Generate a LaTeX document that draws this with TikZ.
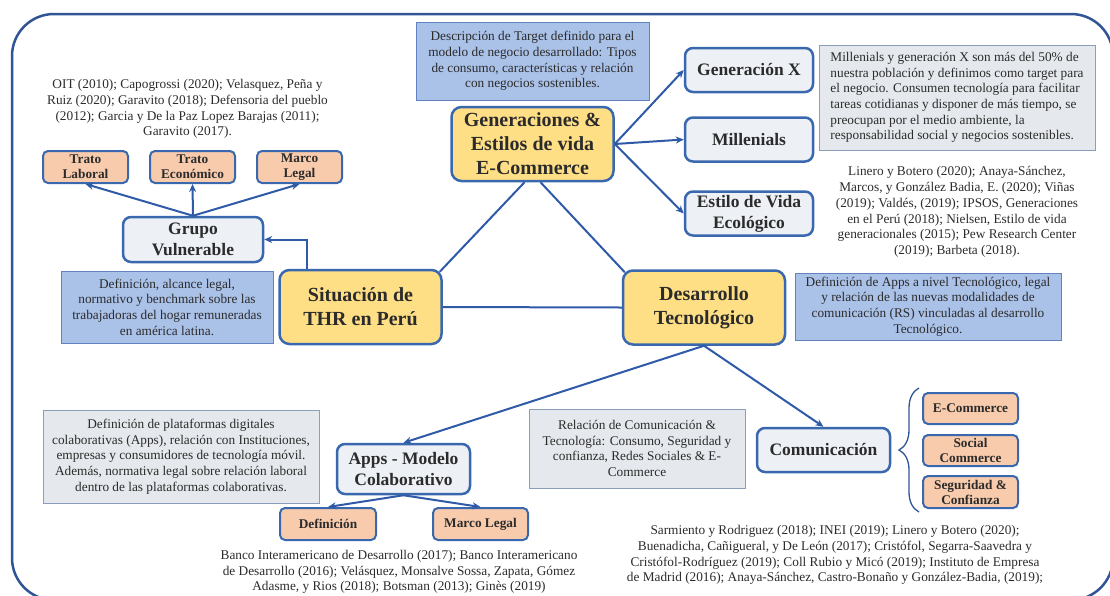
\documentclass[tikz,border=0pt]{standalone}
\usepackage{fontspec}
\setmainfont{LiberationSerif}[Extension=.ttf, UprightFont=*-Regular, BoldFont=*-Bold, ItalicFont=*-Italic, BoldItalicFont=*-BoldItalic]
\usetikzlibrary{arrows.meta, decorations.pathreplacing}
\definecolor{frameblue}{HTML}{2F5597}
\definecolor{edgeblue}{HTML}{3A68AE}
\definecolor{lineblue}{HTML}{2E5AA8}
\definecolor{topicfill}{HTML}{FFDF85}
\definecolor{subfill}{HTML}{EDF0F5}
\definecolor{tagfill}{HTML}{F8CBAD}
\definecolor{bluenote}{HTML}{AAC1E8}
\definecolor{bluenoteedge}{HTML}{6283C0}
\definecolor{graynote}{HTML}{E5E8EC}
\definecolor{graynoteedge}{HTML}{8A9DBB}
\definecolor{ink}{HTML}{2B2B2B}

\begin{document}
\begin{tikzpicture}[x=1pt, y=-1pt,
    topic/.style={draw=edgeblue, line width=2.5pt, rounded corners=10pt, fill=topicfill, minimum width=162pt, minimum height=74pt, inner sep=0pt, align=center, text=ink, font=\fontsize{20}{24}\selectfont\bfseries},
    subtopic/.style={draw=edgeblue, line width=2.5pt, rounded corners=8pt, fill=subfill, minimum width=128pt, minimum height=44pt, inner sep=0pt, align=center, text=ink, font=\fontsize{17.5}{21}\selectfont\bfseries},
    tagbox/.style={draw=edgeblue, line width=2pt, rounded corners=5pt, fill=tagfill, minimum width=95pt, minimum height=32pt, inner sep=0pt, align=center, text=ink, font=\fontsize{13.3}{15}\selectfont\bfseries},
    descblue/.style={draw=bluenoteedge, line width=1pt, fill=bluenote, inner sep=0pt, align=center, text=ink, font=\fontsize{13.3}{15.7}\selectfont},
    descgray/.style={draw=graynoteedge, line width=1pt, fill=graynote, inner sep=0pt, align=center, text=ink, font=\fontsize{13.3}{15.7}\selectfont},
    refs/.style={align=center, text=ink, inner sep=0pt, font=\fontsize{13.3}{15.7}\selectfont},
    arr/.style={-{Stealth[length=8pt, width=7pt]}, line width=2pt, lineblue},
    link/.style={line width=2pt, lineblue},
    brace/.style={decorate, decoration={brace, amplitude=20pt}, line width=1.3pt, frameblue},
]

\useasboundingbox (0,0) rectangle (1110,595);

% Frame
\draw[frameblue, line width=2.5pt, rounded corners=42pt] (12,14) rectangle (1113,600);

% Core topics
\node[topic] (gen) at (532.5,144) {Generaciones \&\\Estilos de vida\\E-Commerce};
\node[topic] (thr) at (360.5,307) {Situación de\\THR en Perú};
\node[topic] (des) at (704,307.5) {Desarrollo\\Tecnológico};

\draw[link] ([xshift=-8pt]gen.south) -- ([xshift=-3pt, yshift=-3pt]thr.north east);
\draw[link] ([xshift=8pt]gen.south) -- ([xshift=3pt, yshift=-3pt]des.north west);
\draw[link] (thr.east) -- (des.west);

% Generaciones branch
\node[descblue, minimum width=233pt, minimum height=78pt] (target) at (532.5,61)
    {Descripción de Target  definido para el\\
     modelo de negocio desarrollado: Tipos\\
     de consumo, características  y relación\\
     con negocios sostenibles.};

\node[subtopic] (genx) at (749,70) {Generación X};
\node[subtopic] (mill) at (749,139.5) {Millenials};
\node[subtopic] (eco) at (749,213.5) {Estilo de Vida\\Ecológico};

\draw[arr] (gen.east) -- (genx.west);
\draw[arr] (gen.east) -- (mill.west);
\draw[arr] (gen.east) -- (eco.west);

\node[descgray, align=left, minimum width=276pt, minimum height=105pt] (millnote) at (957,97.5)
    {Millenials  y generación X son más del 50\% de\\
     nuestra población y definimos como target para\\
     el negocio. Consumen tecnología para facilitar\\
     tareas cotidianas y disponer de más tiempo, se\\
     preocupan por el medio ambiente, la\\
     responsabilidad social y negocios sostenibles.};

\node[refs] (genref) at (957,212)
    {Linero y Botero (2020);  Anaya-Sánchez,\\
     Marcos, y González Badia, E. (2020);  Viñas\\
     (2019); Valdés, (2019);  IPSOS, Generaciones\\
     en el Perú (2018); Nielsen, Estilo de vida\\
     generacionales (2015); Pew Research Center\\
     (2019);  Barbeta (2018).};

% THR branch
\node[refs] (oitref) at (187.5,109)
    {OIT (2010);  Capogrossi (2020);  Velasquez, Peña y\\
     Ruiz (2020);  Garavito (2018);  Defensoria del pueblo\\
     (2012);  Garcia y De la Paz Lopez Barajas (2011);\\
     Garavito (2017).};

\node[tagbox, minimum width=85pt] (tlab) at (85.5,167) {Trato\\Laboral};
\node[tagbox, minimum width=85pt] (tecon) at (192.5,167) {Trato\\Económico};
\node[tagbox, minimum width=85pt] (tmarco) at (299.5,167) {Marco\\Legal};

\node[subtopic, minimum width=140pt, minimum height=45pt] (grupo) at (193,239.5) {Grupo\\Vulnerable};

\draw[arr] (grupo.north) -- (tlab.south);
\draw[arr] (grupo.north) -- (tecon.south);
\draw[arr] (grupo.north) -- (tmarco.south);
\draw[arr] ([xshift=-54pt]thr.north) |- (grupo.east);

\node[descblue, minimum width=212pt, minimum height=72pt] (thrnote) at (167,307)
    {Definición,  alcance legal,\\
     normativo y benchmark sobre las\\
     trabajadoras del hogar remuneradas\\
     en américa latina.};

% Desarrollo branch
\node[descblue, minimum width=266pt, minimum height=67pt] (desnote) at (928,306.5)
    {Definición de Apps a  nivel Tecnológico, legal\\
     y relación de las nuevas modalidades de\\
     comunicación (RS) vinculadas al desarrollo\\
     Tecnológico.};

\node[subtopic, minimum width=133pt, minimum height=50pt] (apps) at (403.5,469) {Apps - Modelo\\Colaborativo};
\node[subtopic, minimum width=133pt] (com) at (823.5,450) {Comunicación};

\draw[arr] (des.south) -- (apps.north);
\draw[arr] (des.south) -- (com.north);

% Apps
\node[descgray, minimum width=276pt, minimum height=93pt] (appsnote) at (181,456.5)
    {Definición  de plataformas digitales\\
     colaborativas (Apps), relación con Instituciones,\\
     empresas y consumidores de tecnología móvil.\\
     Además, normativa legal  sobre relación laboral\\
     dentro de las plataformas colaborativas.};

\node[tagbox, minimum width=96pt] (def) at (328,524) {Definición};
\node[tagbox] (mlegal) at (480.5,524) {Marco Legal};

\draw[arr] (apps.south) -- (def.north);
\draw[arr] (apps.south) -- (mlegal.north);

\node[refs] (bankref) at (399,572)
    {Banco Interamericano de Desarrollo (2017);  Banco Interamericano\\
     de Desarrollo (2016);  Velásquez, Monsalve Sossa, Zapata, Gómez\\
     Adasme, y Rios (2018);  Botsman (2013);  Ginès (2019)};

% Comunicacion
\node[descgray, minimum width=216pt, minimum height=79pt] (comnote) at (637,448.5)
    {Relación de Comunicación \&\\
     Tecnología:  Consumo, Seguridad y\\
     confianza, Redes Sociales \& E-\\
     Commerce};

\node[tagbox, minimum height=31pt] (ecom) at (970.5,408.5) {E-Commerce};
\node[tagbox, minimum height=31pt] (social) at (970.5,450.5) {Social\\Commerce};
\node[tagbox] (segu) at (970.5,492) {Seguridad \&\\Confianza};

\coordinate (bracetop) at (919,388);
\coordinate (bracebot) at (919,512);
\draw[brace] (bracebot) -- (bracetop);

\node[refs] (comref) at (835,555)
    {Sarmiento y Rodriguez (2018);  INEI (2019);  Linero y Botero (2020);\\
     Buenadicha, Cañigueral,  y De León (2017);  Cristófol, Segarra-Saavedra y\\
     Cristófol-Rodríguez (2019);  Coll Rubio y Micó (2019);  Instituto de Empresa\\
     de Madrid (2016);  Anaya-Sánchez, Castro-Bonaño y González-Badia, (2019);};

\end{tikzpicture}
\end{document}
